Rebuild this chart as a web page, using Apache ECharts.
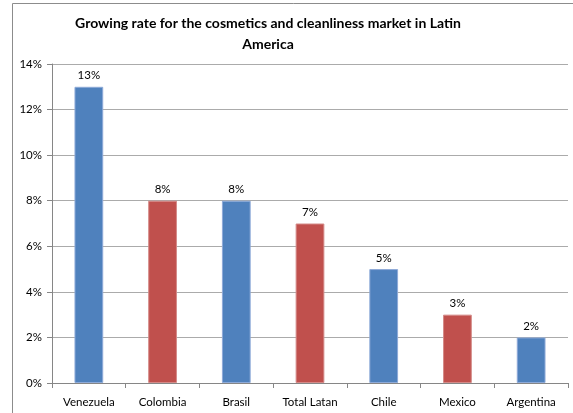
<!DOCTYPE html>
<html>
<head>
<meta charset="utf-8">
<script src="https://cdn.jsdelivr.net/npm/echarts@6/dist/echarts.min.js"></script>
<style>
  html, body { margin: 0; padding: 0; background: #fff; }
  #chart { width: 573px; height: 413px; }
</style>
</head>
<body>
<div id="chart"></div>
<script>
// Market growth by country (percent)
const categories = ['Venezuela', 'Colombia', 'Brasil', 'Total Latan', 'Chile', 'Mexico', 'Argentina'];
const growth = [13, 8, 8, 7, 5, 3, 2];
const barColors = ['#4F81BD', '#C0504D', '#4F81BD', '#C0504D', '#4F81BD', '#C0504D', '#4F81BD'];
const edgeColors = ['#8EAAD8', '#D48A88', '#8EAAD8', '#D48A88', '#8EAAD8', '#D48A88', '#8EAAD8'];

const chart = echarts.init(document.getElementById('chart'), null, { renderer: 'canvas' });
const font = 'Lato, "Open Sans", sans-serif';

chart.setOption({
  animation: false,
  backgroundColor: '#fff',
  graphic: [{
    type: 'rect',
    shape: { x: 12.5, y: 3.5, width: 600, height: 450 },
    style: { fill: 'none', stroke: '#8C8C8C', lineWidth: 1 },
    silent: true
  }, {
    type: 'text',
    style: {
      text: 'Growing rate for the cosmetics and cleanliness market in Latin\nAmerica',
      x: 268, y: 13,
      textAlign: 'center',
      font: 'bold 14px ' + font,
      lineHeight: 21,
      fill: '#000'
    }
  }],
  grid: { left: 52, right: 5, top: 64, bottom: 30, containLabel: false },
  xAxis: {
    type: 'category',
    data: categories,
    axisLine: { lineStyle: { color: '#868686', width: 1 } },
    axisTick: { show: true, length: 5, inside: false, lineStyle: { color: '#868686' } },
    axisLabel: { color: '#000', fontFamily: font, fontSize: 11.5, margin: 13 }
  },
  yAxis: {
    type: 'value',
    min: 0, max: 14, interval: 2,
    axisLine: { show: true, lineStyle: { color: '#868686' } },
    axisTick: { show: true, length: 5, lineStyle: { color: '#868686' } },
    axisLabel: { formatter: '{value}%', color: '#000', fontFamily: font, fontSize: 11.5, margin: 10 },
    splitLine: { lineStyle: { color: '#ABABAB', width: 1 } }
  },
  series: [{
    type: 'bar',
    data: growth.map((v, i) => ({
      value: v,
      itemStyle: { color: barColors[i], borderColor: edgeColors[i], borderWidth: 1 }
    })),
    barWidth: '39%',
    label: {
      show: true, position: 'top', distance: 5,
      formatter: '{c}%', color: '#000', fontFamily: font, fontSize: 11.5
    }
  }]
});
</script>
</body>
</html>
